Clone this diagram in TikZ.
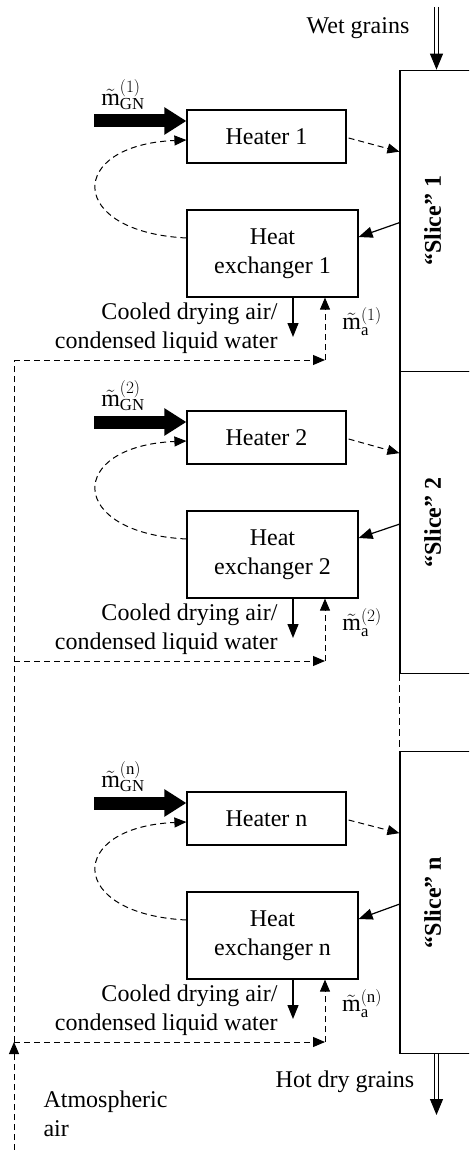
\documentclass[tikz,border=0pt]{standalone}
\usepackage{fontspec}
\setmainfont{Liberation Serif}
\usetikzlibrary{arrows.meta,positioning}

\begin{document}
\begin{tikzpicture}[
  x=1pt, y=-1pt,
  font=\fontsize{24}{28.5}\selectfont,
  unit/.style={rectangle, draw, line width=1.2pt, align=center, inner sep=0pt},
  slice/.style={rectangle, draw, line width=1.2pt, inner sep=0pt,
                minimum width=73pt, minimum height=301.5pt,
                font=\fontsize{24}{28}\selectfont\bfseries},
  flow/.style={-{Triangle[length=14pt,width=11pt]}, line width=1.2pt},
  gas/.style={-{Triangle[length=12pt,width=10pt]}, line width=1pt,
              dash pattern=on 6pt off 4pt},
  fuel/.style={-{Triangle[length=22pt,width=26pt]}, line width=13pt},
  grain/.style={-{Triangle[length=16pt,width=13pt]}, double,
                double distance=2.5pt, line width=1pt},
  gap/.style={line width=1.2pt, dash pattern=on 7pt off 4pt}
]
\clip (0,0) rectangle (469,1150);

\node[slice] (s1) at (436.5,221)   {\rotatebox{90}{\rule[-8pt]{0pt}{0pt}“Slice” 1}};
\node[slice] (s2) at (436.5,522.5) {\rotatebox{90}{\rule[-8pt]{0pt}{0pt}“Slice” 2}};
\node[slice] (sn) at (436.5,902.5) {\rotatebox{90}{\rule[-8pt]{0pt}{0pt}“Slice” n}};

\node[unit, minimum width=159pt, minimum height=53pt] (h1) at (266.5,136.5) {Heater 1};
\node[unit, minimum width=171pt, minimum height=87pt] (x1) at (272.5,253.5) {Heat\\exchanger 1};
\node[unit, minimum width=159pt, minimum height=53pt] (h2) at (266.5,437.5) {Heater 2};
\node[unit, minimum width=171pt, minimum height=87pt] (x2) at (272.5,554.5) {Heat\\exchanger 2};
\node[unit, minimum width=159pt, minimum height=53pt] (hn) at (266.5,818.5) {Heater n};
\node[unit, minimum width=171pt, minimum height=87pt] (xn) at (272.5,935.5) {Heat\\exchanger n};

\node (g1) at (123,95)  {$\tilde{\mathrm{m}}_{\mathrm{GN}}^{(1)}$};
\node (g2) at (123,396) {$\tilde{\mathrm{m}}_{\mathrm{GN}}^{(2)}$};
\node (gn) at (123,777) {$\tilde{\mathrm{m}}_{\mathrm{GN}}^{(\mathrm{n})}$};

\node[anchor=east, align=right] (w1) at (281,328)  {Cooled drying air/\\condensed liquid water};
\node[anchor=east, align=right] (w2) at (281,629)  {Cooled drying air/\\condensed liquid water};
\node[anchor=east, align=right] (wn) at (281,1010) {Cooled drying air/\\condensed liquid water};

\node (a1) at (362,322)  {$\tilde{\mathrm{m}}_{\mathrm{a}}^{(1)}$};
\node (a2) at (362,623)  {$\tilde{\mathrm{m}}_{\mathrm{a}}^{(2)}$};
\node (an) at (362,1004) {$\tilde{\mathrm{m}}_{\mathrm{a}}^{(\mathrm{n})}$};

\node (wet) at (358,28) {Wet grains};
\node (hot) at (345,1082) {Hot dry grains};
\node[anchor=west, align=left] (atm) at (40,1114) {Atmospheric\\air};

\coordinate (win) at (436.5,7);
\coordinate (wout) at (436.5,1115);
\coordinate (air) at (14,1150);

\foreach \i/\o in {1/0,2/301,n/682}{
  \coordinate (f\i) at (94,121+\o);
  \coordinate (c\i) at (293,337+\o);
  \coordinate (k\i) at (325,360+\o);
  \coordinate (l\i) at (14,360+\o);
}

\foreach \i in {1,2,n}{
  \draw[fuel] (f\i) -- (f\i -| h\i.west);
  \draw[gas] ([yshift=15.5pt]x\i.west) .. controls +(-120,-6) and +(-120,5) .. ([yshift=-3.5pt]h\i.west);
  \draw[gas] ([xshift=2pt,yshift=-1.5pt]h\i.east) -- ([yshift=-82pt]s\i.north west);
  \draw[flow] ([yshift=-153pt]s\i.north west) -- ([yshift=16.5pt]x\i.east);
  \draw[flow] (c\i |- x\i.south) -- (c\i);
  \draw[gas] (k\i) -- (k\i |- x\i.south);
  \draw[gas] (l\i) -- (k\i);
}

\draw[grain] (win) -- (s1.north);
\draw[grain] (sn.south) -- (wout);
\draw[gap] (s2.south west) -- (sn.north west);
\draw[gas] (air) -- (ln);
\draw[gas, -] (ln) -- (l1);
\end{tikzpicture}
\end{document}
